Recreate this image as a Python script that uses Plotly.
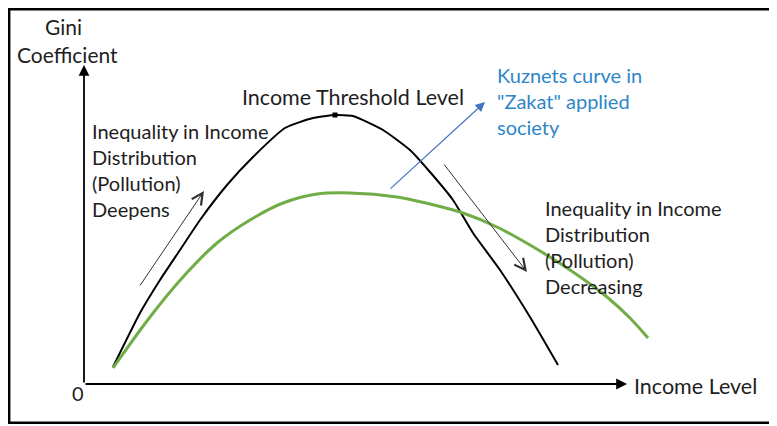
import plotly.graph_objects as go

# Data coordinates: origin at the axes' intersection
black_x = [29, 56, 76, 96, 116, 143, 169, 201, 229, 251, 269, 299, 326, 346, 369, 389, 416, 446, 474]
black_y = [17, 71, 104, 134, 164, 199, 227, 256, 266, 269, 268, 254, 234, 212, 184, 151, 114, 67, 19]

green_x = [29, 66, 99, 133, 166, 199, 233, 266, 313, 346, 379, 413, 446, 489, 523, 546, 564]
green_y = [16, 67, 107, 141, 164, 181, 190, 191, 187, 180, 171, 157, 139, 112, 87, 66, 46]

peak = (251, 269)

left_lines = ["Inequality in Income", "Distribution", "(Pollution)", "Deepens"]
right_lines = ["Inequality in Income", "Distribution", "(Pollution)", "Decreasing"]
blue_lines = ["Kuznets curve in", "\"Zakat\" applied", "society"]

FONT = "Lato"
TXT = "#1e1e1e"
BLUE = "#2E86C8"

fig = go.Figure()
fig.add_trace(go.Scatter(x=black_x, y=black_y, mode="lines",
                         line=dict(color="black", width=2, shape="spline", smoothing=0.5),
                         hoverinfo="skip"))
fig.add_trace(go.Scatter(x=green_x, y=green_y, mode="lines",
                         line=dict(color="#70AD47", width=3, shape="spline", smoothing=0.9),
                         hoverinfo="skip"))
fig.add_trace(go.Scatter(x=[peak[0]], y=[peak[1]], mode="markers",
                         marker=dict(color="black", size=5, symbol="square"),
                         hoverinfo="skip"))

ann = []
def arrow(x0, y0, x1, y1, color, width, head, size):
    ann.append(dict(x=x1, y=y1, ax=x0, ay=y0, xref="x", yref="y", axref="x", ayref="y",
                    showarrow=True, arrowhead=head, arrowsize=size, arrowwidth=width,
                    arrowcolor=color, text=""))

# axes
arrow(0, 0, 0, 319, "black", 1.8, 2, 1.2)
arrow(0, 0, 543, 0, "black", 1.8, 2, 1.2)
# trend arrows
arrow(55, 97, 120, 193, "#303030", 1, 5, 2.2)
arrow(359, 221, 443, 112, "#303030", 1, 5, 2.2)
# blue pointer
arrow(305, 194, 401, 282, "#4472C4", 1.2, 2, 1.6)

def text(x, y, s, color=TXT, size=20, anchor="left"):
    ann.append(dict(x=x, y=y, xref="x", yref="y", text=s, showarrow=False,
                    xanchor=anchor, yanchor="middle",
                    font=dict(family=FONT, size=size, color=color)))

text(-21, 358, "Gini", size=21, anchor="center")
text(-17, 330, "Coefficient", size=21, anchor="center")
text(-6, -9, "0", anchor="center")
text(548, -2, "Income Level", size=21.5)
text(269, 287, "Income Threshold Level", size=21.5, anchor="center")
for i, s in enumerate(left_lines):
    text(6, 253 - 26 * i, s)
for i, s in enumerate(right_lines):
    text(459, 176 - 26 * i, s)
for i, s in enumerate(blue_lines):
    text(411, 309 - 26 * i, s, color=BLUE)

border = dict(color="black", width=2.5)
shapes = [
    dict(type="line", xref="paper", yref="paper", x0=0.0015, x1=0.0015, y0=0.0075, y1=0.997, line=border),
    dict(type="line", xref="paper", yref="paper", x0=0.0, x1=1.0, y0=0.997, y1=0.997, line=border),
    dict(type="line", xref="paper", yref="paper", x0=0.0, x1=1.0, y0=0.0075, y1=0.0075, line=border),
]

# the page body adds an 8px offset; ranges compensate so marks land where the reference has them
fig.update_layout(
    width=769, height=418, autosize=False,
    margin=dict(l=0, r=0, t=0, b=0),
    paper_bgcolor="white", plot_bgcolor="white",
    showlegend=False,
    xaxis=dict(range=[-76, 693], visible=False, fixedrange=True),
    yaxis=dict(range=[-42, 376], visible=False, fixedrange=True),
    annotations=ann,
    shapes=shapes,
)

fig.write_html("out.html")
